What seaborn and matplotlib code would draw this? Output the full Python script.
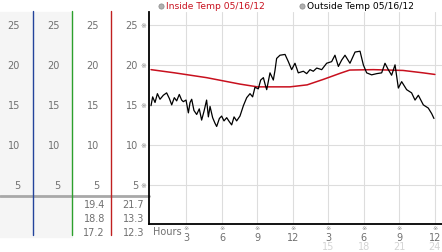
import numpy as np
import pandas as pd
import matplotlib
matplotlib.use("Agg")
import matplotlib.pyplot as plt
import matplotlib.transforms as mtransforms
import seaborn as sns

# ---------------- data ----------------
inside_hours = [0.0, 2.0, 4.7, 7.5, 9.0, 11.75, 13.2, 14.6, 16.0, 16.8, 18.8, 21.3, 23.0, 24.0]
inside_temp = [19.4, 19.0, 18.4, 17.6, 17.25, 17.25, 17.5, 18.2, 18.95, 19.35, 19.4, 19.3, 19.0, 18.8]

outside_hours = [0.0, 0.14, 0.34, 0.54, 0.76, 1.04, 1.32, 1.55, 1.75, 1.97, 2.17, 2.39, 2.59,
                 2.73, 2.96, 3.16, 3.3, 3.44, 3.63, 3.86, 4.08, 4.28, 4.48, 4.7, 4.85, 4.99,
                 5.21, 5.41, 5.55, 5.78, 5.97, 6.17, 6.4, 6.62, 6.82, 7.02, 7.24, 7.52, 7.81,
                 8.09, 8.37, 8.59, 8.79, 9.07, 9.27, 9.5, 9.64, 9.78, 10.06, 10.34, 10.48,
                 10.62, 10.9, 11.33, 11.61, 11.89, 12.17, 12.45, 12.88, 13.16, 13.44, 13.72,
                 14.01, 14.43, 14.85, 15.27, 15.55, 15.84, 16.12, 16.4, 16.82, 17.25, 17.67,
                 17.95, 18.23, 18.65, 19.08, 19.5, 19.78, 20.06, 20.34, 20.63, 20.91, 21.19,
                 21.61, 22.03, 22.32, 22.6, 23.02, 23.44, 23.73, 23.92]
outside_temp = [14.9, 16.0, 15.3, 16.4, 15.7, 16.2, 16.5, 15.8, 15.0, 15.9, 15.5, 16.3, 15.6,
                15.4, 15.6, 14.0, 15.3, 15.7, 14.3, 13.8, 14.5, 13.1, 14.2, 15.6, 13.5, 14.8,
                13.4, 12.7, 12.3, 13.3, 13.6, 13.0, 13.4, 12.9, 12.5, 13.5, 13.0, 13.6, 14.9,
                15.9, 16.4, 16.0, 17.2, 17.0, 18.1, 18.4, 17.6, 16.9, 19.0, 18.1, 19.3,
                20.8, 21.2, 21.3, 20.4, 19.4, 20.2, 19.0, 19.2, 18.9, 19.4, 19.2,
                19.6, 19.4, 20.2, 20.4, 21.2, 19.8, 20.6, 21.2, 20.2, 21.6, 21.7,
                20.0, 19.0, 18.75, 18.9, 19.0, 20.2, 19.4, 18.7, 20.0, 17.1, 17.9,
                16.9, 16.5, 15.6, 16.2, 15.0, 14.6, 13.9, 13.3]

y_ticks = [5, 10, 15, 20, 25]
x_ticks = [3, 6, 9, 12, 15, 18, 21, 24]
x_labels = ["3", "6", "9", "12", "3", "6", "9", "12"]
x_faint_ticks = [15, 18, 21, 24]
x_faint_labels = ["15", "18", "21", "24"]
inside_stats = ["19.4", "18.8", "17.2"]
outside_stats = ["21.7", "13.3", "12.3"]
legend_labels = ["Inside Temp 05/16/12", "Outside Temp 05/16/12"]

# ---------------- style ----------------
sns.set_style("white")
plt.rcParams["font.family"] = ["DejaVu Sans"]

W, H = 442, 253
fig = plt.figure(figsize=(W / 100, H / 100), dpi=100)

# background overlay in pixel coordinates
bg = fig.add_axes([0, 0, 1, 1], zorder=0)
bg.set_xlim(0, W)
bg.set_ylim(H, 0)
bg.axis("off")

# main plot axes
AX_H = 212
ax = fig.add_axes([149 / W, (H - 225) / H, (W - 149) / W, AX_H / H], zorder=2)
ax.patch.set_alpha(0)

df_in = pd.DataFrame({"hour": inside_hours, "temp": inside_temp})
df_out = pd.DataFrame({"hour": outside_hours, "temp": outside_temp})
sns.lineplot(data=df_in, x="hour", y="temp", ax=ax, color="#c8101e", linewidth=1.1, zorder=3)
sns.lineplot(data=df_out, x="hour", y="temp", ax=ax, color="black", linewidth=0.9, zorder=4)

ax.set_xlim(-0.17, 24.6)
ax.set_ylim(0.12, 26.6)
ax.set_xticks(x_ticks)
ax.set_yticks(y_ticks)
ax.set_xticklabels([])
ax.set_yticklabels([])
ax.tick_params(length=0)
ax.grid(True, color="#dddddd", linewidth=0.8)
ax.set_xlabel("")
ax.set_ylabel("")
for s in ["top", "right"]:
    ax.spines[s].set_visible(False)
for s in ["left", "bottom"]:
    ax.spines[s].set_color("black")
    ax.spines[s].set_linewidth(1.3)

txt_gray = "#707070"
fs = 7
mark_col = "#8a8a8a"

# y tick marks (small glyph left of axis)
for v in y_ticks:
    ax.text(-0.008, v, "\u203b", transform=ax.get_yaxis_transform(), ha="right", va="center",
            fontsize=5, color=mark_col, clip_on=False)

# x tick marks and labels
for xv, lab in zip(x_ticks, x_labels):
    ax.text(xv, -4 / AX_H, "\u203b", transform=ax.get_xaxis_transform(), ha="center", va="center",
            fontsize=4.5, color=mark_col, clip_on=False)
    ax.text(xv, -13 / AX_H, lab, transform=ax.get_xaxis_transform(), ha="center", va="center",
            fontsize=fs, color=txt_gray, clip_on=False)
for xv, lab in zip(x_faint_ticks, x_faint_labels):
    ax.text(xv, -22.5 / AX_H, lab, transform=ax.get_xaxis_transform(), ha="center", va="center",
            fontsize=fs, color="#d4d4d4", clip_on=False)
bg.text(153, 232, "Hours", ha="left", va="center", fontsize=fs, color=txt_gray)

# left panels
bg.add_patch(plt.Rectangle((0, 13), 72, 225, color="#f5f5f5", zorder=0))
blend = mtransforms.blended_transform_factory(bg.transData, ax.transData)
col_right = [20, 60, 99, 138]
for xr in col_right:
    for v in y_ticks:
        bg.text(xr, v, str(v), transform=blend, ha="right", va="center", fontsize=fs, color=txt_gray)

bg.plot([0, 149], [197, 197], color="#a8a8a8", linewidth=2, zorder=2)
bg.plot([33, 33], [12, 236], color="#23439b", linewidth=1, zorder=3)
bg.plot([72, 72], [12, 236], color="#2ca02c", linewidth=1, zorder=3)
bg.plot([111, 111], [12, 236], color="#c02020", linewidth=1, zorder=3)

stat_y = [205, 219, 233]
for yy, a, b in zip(stat_y, inside_stats, outside_stats):
    bg.text(105, yy, a, ha="right", va="center", fontsize=fs, color=txt_gray)
    bg.text(144, yy, b, ha="right", va="center", fontsize=fs, color=txt_gray)

# legend
bg.scatter([161, 302], [6.5, 6.5], s=14, color="#b0b0b0", edgecolor="#888888", linewidth=0.5, zorder=5)
bg.text(166, 6.5, legend_labels[0], ha="left", va="center", fontsize=6.6, color="#c8101e")
bg.text(307, 6.5, legend_labels[1], ha="left", va="center", fontsize=6.6, color="black")

fig.savefig("out.png", dpi=100)
